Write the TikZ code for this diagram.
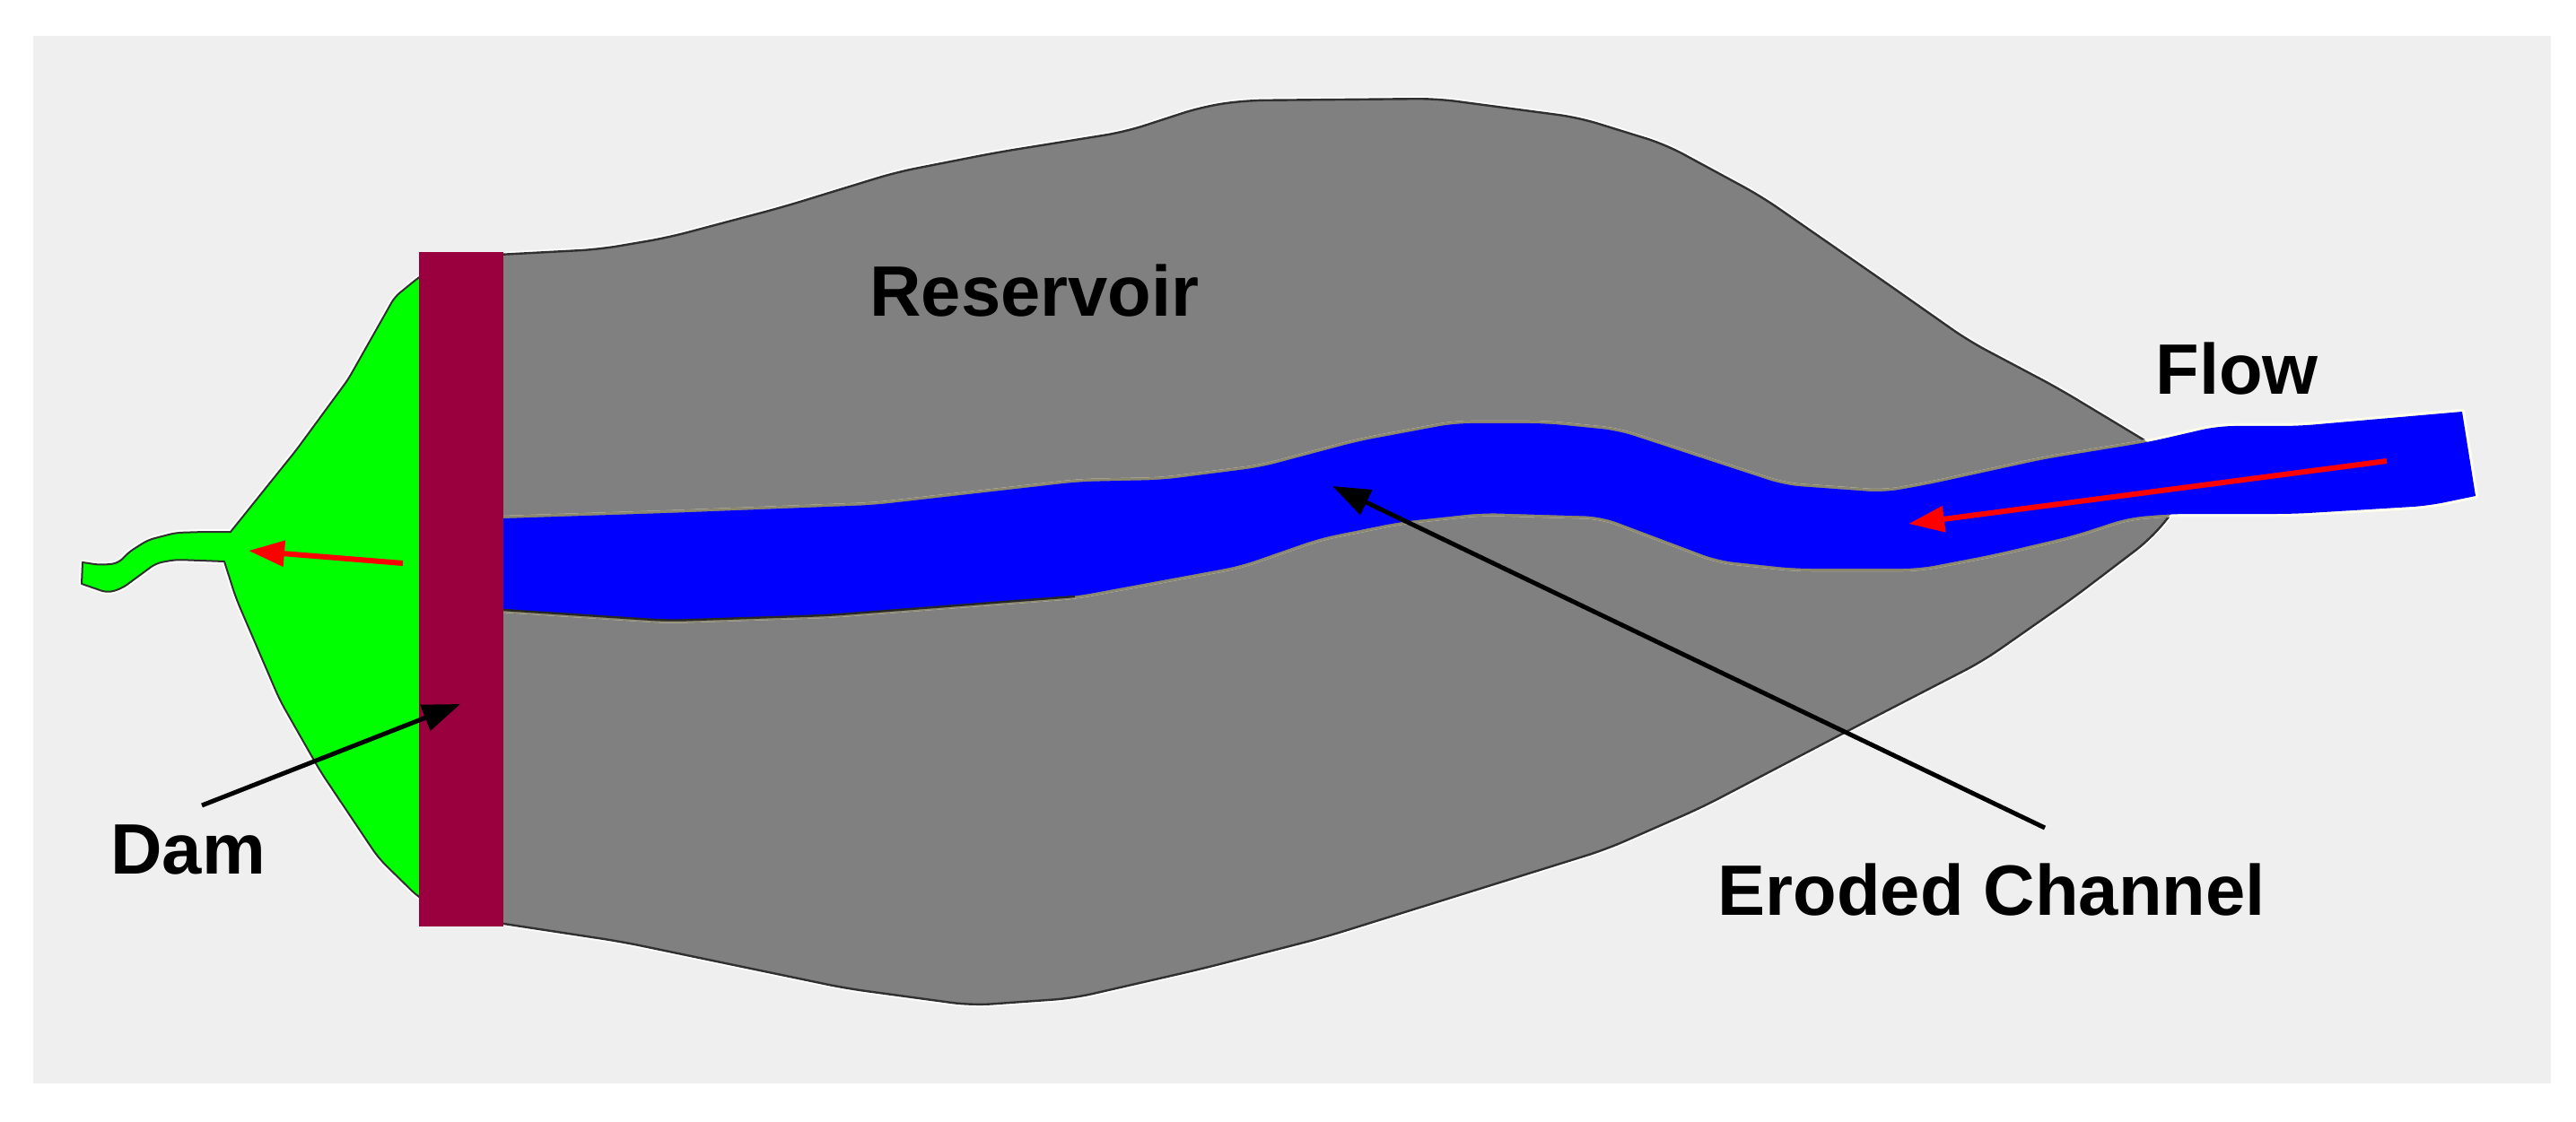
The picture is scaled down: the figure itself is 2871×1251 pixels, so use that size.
\documentclass[tikz,border=0pt]{standalone}
\usepackage{fontspec}
\setmainfont{Liberation Sans}
\usetikzlibrary{arrows.meta}
\definecolor{pagebg}{HTML}{EFEFEF}
\definecolor{resgray}{HTML}{808080}
\definecolor{damred}{HTML}{99003D}
\definecolor{tanedge}{HTML}{8C8870}
\definecolor{creamedge}{HTML}{FFFFEC}
\definecolor{darkedge}{HTML}{303030}
\tikzset{
  x=0.5pt,y=-0.5pt,
  label text/.style={inner sep=0pt,anchor=base west,font=\fontsize{39.8}{47}\selectfont\bfseries,text=black},
  pointer/.style={draw=black,line width=2.5pt,-{Triangle[length=21pt,width=15pt]}},
  flowarrow/.style={draw=red,line width=3pt,-{Triangle[length=20pt,width=14pt]}},
  halo/.style={draw=white,line width=3pt,line join=round},
  outline/.style={draw=darkedge,line width=1.2pt,line join=round},
}
\begin{document}
\begin{tikzpicture}
\useasboundingbox (0,0) rectangle (2871,1251);
\fill[white] (0,0) rectangle (2871,1251);
\fill[pagebg] (37,40) rectangle (2843,1208);

% saved outlines
\path[save path=\grayoutline,rounded corners=11pt]
 [sharp corners] (555,284) [rounded corners=11pt] -- (668,278) -- (744,265) -- (872,231) -- (999,192) -- (1111,170) -- (1254,147) -- (1340,119)
 -- (1387,112) -- (1601,110) -- (1759,131) -- (1856,161) -- (1963,219) -- (2100,314) -- (2194,380)
 -- (2294,433) -- (2430,515) -- (2430,560) -- (2398,600) -- (2310,667) -- (2210,737) -- (2065,812)
 -- (1897,900) -- (1790,947) -- (1476,1045) -- (1340,1080) -- (1196,1113) -- (1083,1121) -- (943,1102)
 -- (693,1050) [sharp corners] -- (555,1029) -- cycle;
\path[save path=\greenoutline,rounded corners=3.5pt]
 (500,290) -- (467,309) -- (440,331) -- (388,423) -- (330,502) [sharp corners] -- (257,593)
 [rounded corners=3.5pt] -- (228,593) -- (196,594) -- (165,602)
 -- (143,616) -- (132,628) -- (112,630) [sharp corners] -- (92,627) -- (91,651)
 [rounded corners=3.5pt] -- (120,661) -- (136,656) -- (174,628)
 -- (196,624) [sharp corners] -- (250,626) [rounded corners=6pt] -- (263,667) -- (312,781) -- (357,860) -- (422,957) -- (467,1001) -- (500,1020) -- cycle;
\path[save path=\blueoutline,rounded corners=9pt]
 (530,579) -- (744,572) -- (974,563) -- (1203,537) -- (1295,535) -- (1405,521) -- (1514,492) -- (1621,472)
 -- (1723,472) -- (1803,480) -- (1989,541) -- (2100,549) -- (2150,540) -- (2278,512) -- (2394,493)
 -- (2472,475) -- (2561,475) [sharp corners] -- (2744,459) -- (2759,553)
 [rounded corners=9pt] -- (2706,564) -- (2556,573) -- (2422,573)
 -- (2372,577) -- (2311,597) -- (2222,618) -- (2139,634) -- (2000,634) -- (1915,625) -- (1785,576)
 -- (1652,572) -- (1560,582) -- (1471,600) -- (1382,631) -- (1198,665) -- (923,686) -- (744,692)
 -- (530,678) -- cycle;

% reservoir
\path[halo,use path=\grayoutline];
\path[fill=resgray,outline,use path=\grayoutline];
% downstream water
\path[halo,use path=\greenoutline];
\path[fill=green,outline,line width=1pt,use path=\greenoutline];
% channel
\path[draw=creamedge,line width=3pt,line join=round,use path=\blueoutline];
\begin{scope}
  \clip[use path=\grayoutline];
  \path[draw=tanedge,line width=3pt,line join=round,use path=\blueoutline];
\end{scope}
\path[fill=blue,use path=\blueoutline];
\draw[draw=black!85,line width=1.2pt,line join=round,rounded corners=9pt] (561,680) -- (744,692) -- (923,686) -- (1198,665);
% dam
\fill[damred] (467,281) rectangle (561,1033);

% labels
\node[label text] (reservoir) at (969,353) {Reservoir};
\node[label text] (flow) at (2402,440) {Flow};
\node[label text] (dam) at (123,974) {Dam};
\node[label text] (eroded) at (1914,1020) {Eroded Channel};

% connector ends
\coordinate (damtail) at (225,898);
\coordinate (damtip) at (513,785);
\coordinate (chantail) at (2279,923);
\coordinate (chantip) at (1485,542);
\coordinate (flowtail) at (2660,514);
\coordinate (flowtip) at (2127,584);
\coordinate (outtail) at (449,628);
\coordinate (outtip) at (277,614);

\draw[pointer] (damtail) -- (damtip);
\draw[pointer] (chantail) -- (chantip);
\draw[flowarrow] (flowtail) -- (flowtip);
\draw[flowarrow] (outtail) -- (outtip);
\end{tikzpicture}
\end{document}
